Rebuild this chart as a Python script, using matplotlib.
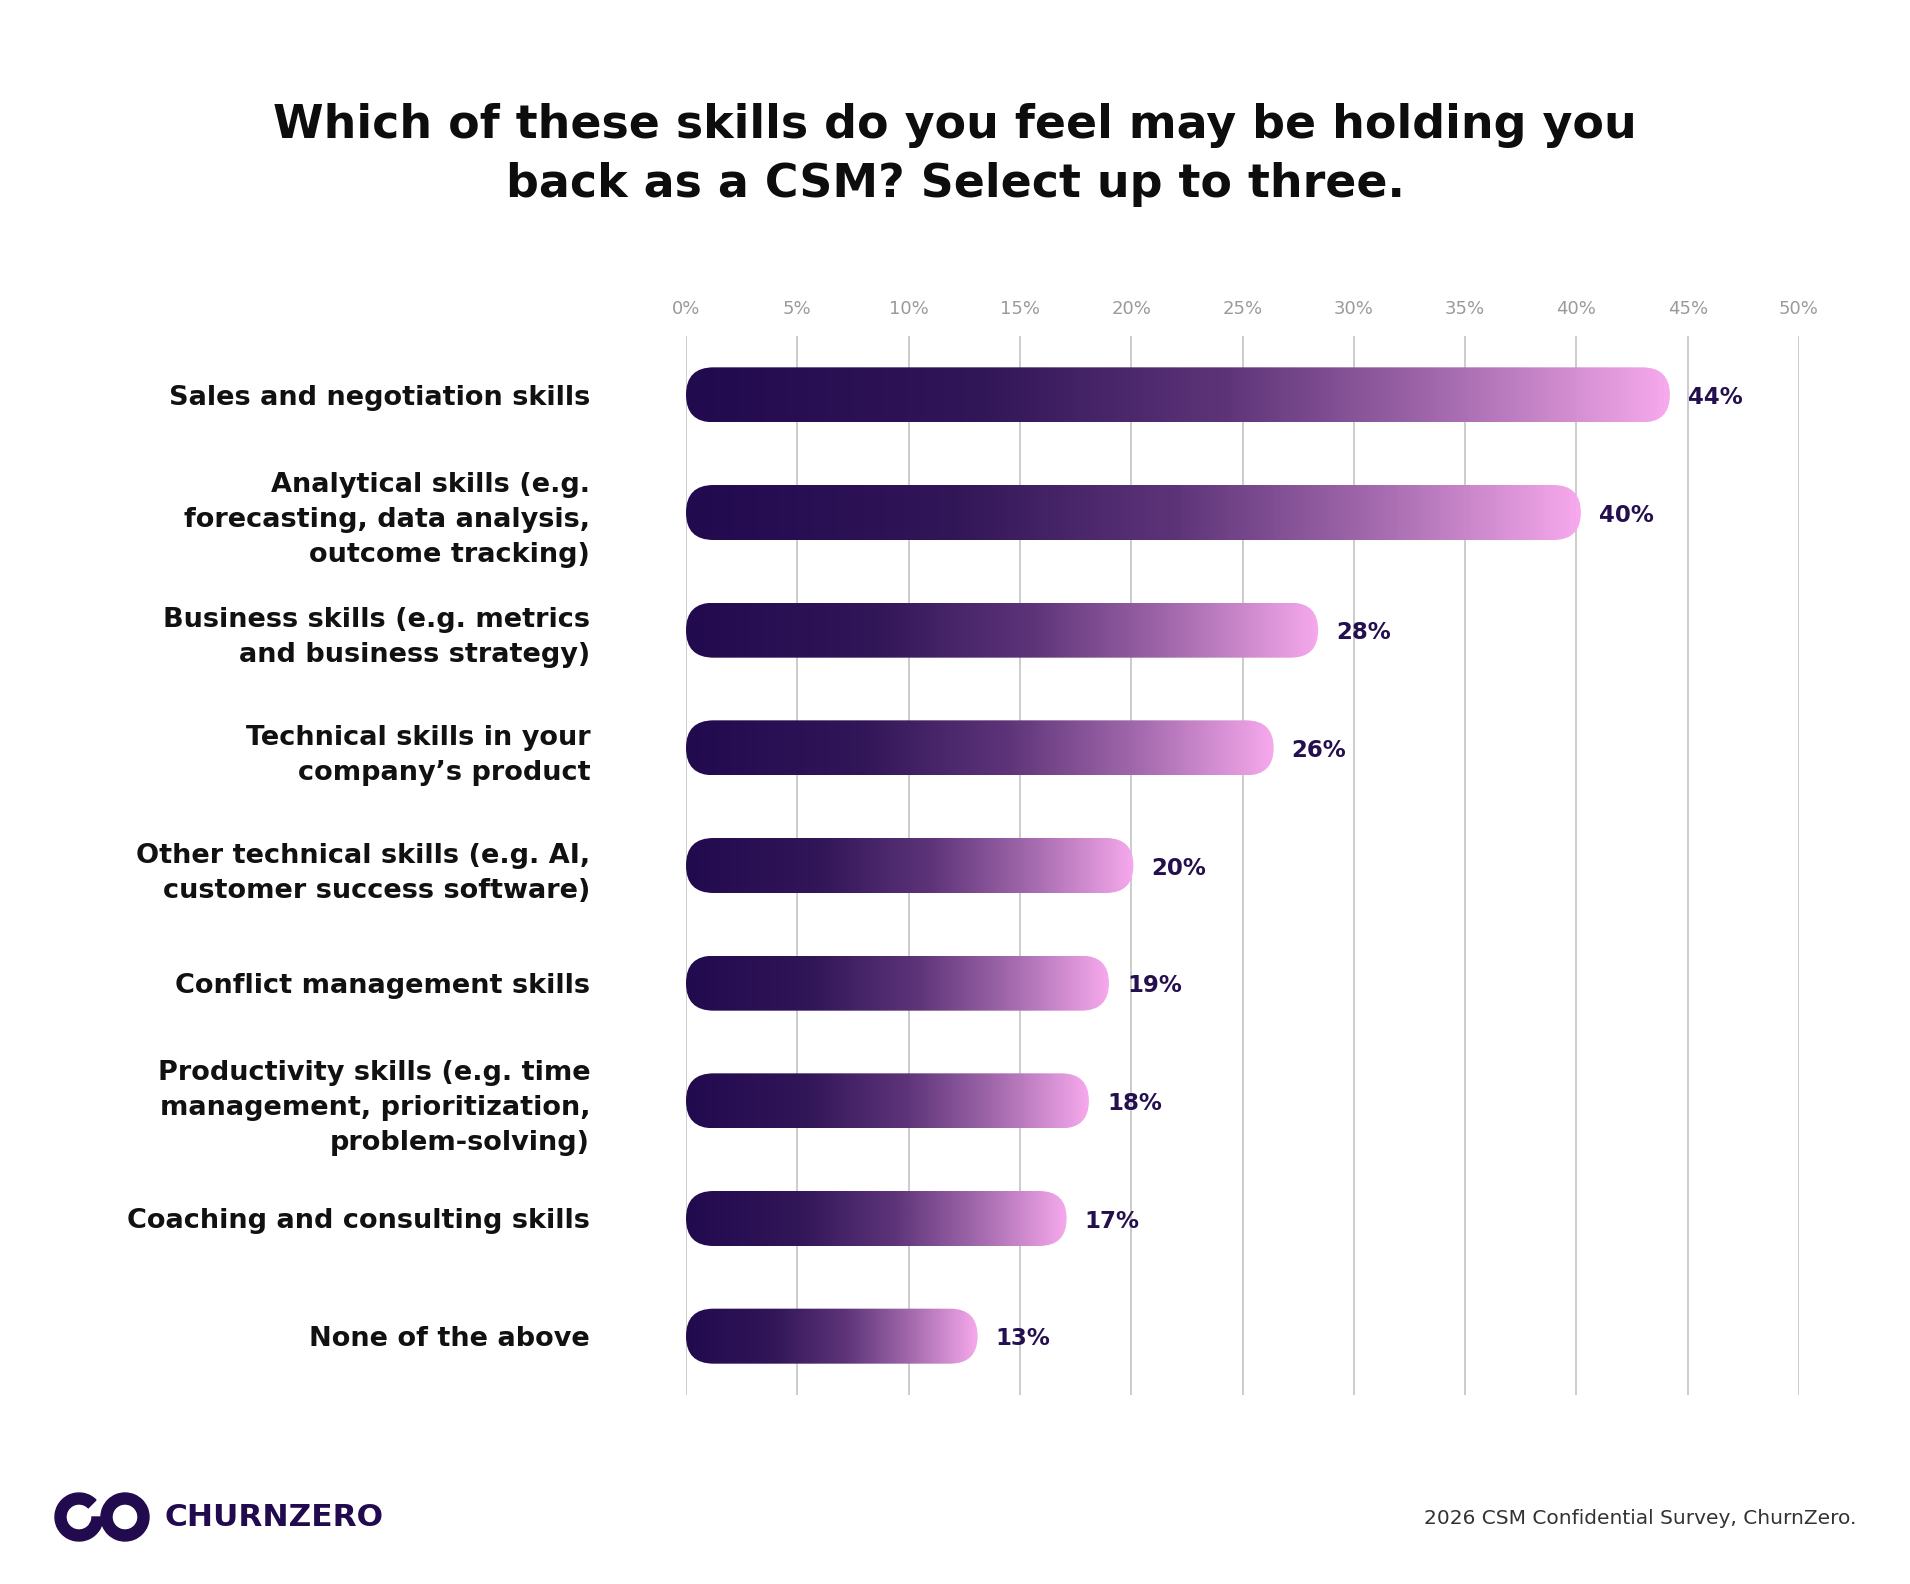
import matplotlib
matplotlib.use('Agg')
import matplotlib.pyplot as plt
import numpy as np
from matplotlib.colors import LinearSegmentedColormap
from matplotlib.patches import FancyBboxPatch, Wedge

# Datos
categorias = [
    'Sales and negotiation skills',
    'Analytical skills (e.g.\nforecasting, data analysis,\noutcome tracking)',
    'Business skills (e.g. metrics\nand business strategy)',
    'Technical skills in your\ncompany\u2019s product',
    'Other technical skills (e.g. AI,\ncustomer success software)',
    'Conflict management skills',
    'Productivity skills (e.g. time\nmanagement, prioritization,\nproblem-solving)',
    'Coaching and consulting skills',
    'None of the above',
]
valores = [44.2, 40.2, 28.4, 26.4, 20.1, 19.0, 18.1, 17.1, 13.1]
etiquetas = ['44%', '40%', '28%', '26%', '20%', '19%', '18%', '17%', '13%']
ticks = [0, 5, 10, 15, 20, 25, 30, 35, 40, 45, 50]

titulo = 'Which of these skills do you feel may be holding you\nback as a CSM? Select up to three.'
fuente = '2026 CSM Confidential Survey, ChurnZero.'

oscuro = '#220a4f'
cmap = LinearSegmentedColormap.from_list(
    'cz', [(0.0, '#220a4f'), (0.3, '#311658'), (0.55, '#5e3479'),
           (0.78, '#a66caf'), (1.0, '#f6a9ec')])

plt.rcParams['font.family'] = ['DejaVu Sans']

W, H, DPI = 1910, 1584, 100
fig = plt.figure(figsize=(W / DPI, H / DPI), dpi=DPI)
fig.patch.set_facecolor('white')

# Ejes en pixeles
x0, x1 = 686, 1799
ytop, ybot = 336, 1395
ax = fig.add_axes([x0 / W, 1 - ybot / H, (x1 - x0) / W, (ybot - ytop) / H])
ax.set_xlim(0, 50)
n = len(categorias)
ax.set_ylim(n - 0.5, -0.5)

for s in ax.spines.values():
    s.set_visible(False)
ax.set_xticks(ticks)
ax.set_xticklabels([f'{t}%' for t in ticks])
ax.xaxis.tick_top()
ax.tick_params(axis='x', length=0, pad=13, labelsize=13, labelcolor='#9a9a9a')
ax.grid(axis='x', color='#c4c4c4', linewidth=1.2)
ax.set_axisbelow(True)

ax.set_yticks(range(n))
ax.set_yticklabels(categorias, fontsize=19.5, fontweight='bold', color='#111111',
                   linespacing=1.45)
ax.tick_params(axis='y', length=0, pad=69)

# Relacion de aspecto para las puntas redondeadas
px_x = (x1 - x0) / 50.0
px_y = (ybot - ytop) / n
alto = 55 / px_y
radio = 27.5 / px_x
aspecto = (1 / px_y) / (1 / px_x)

grad = np.linspace(0, 1, 256).reshape(1, -1)
for i, v in enumerate(valores):
    caja = FancyBboxPatch((0, i - alto / 2), v, alto,
                          boxstyle=f'round,pad=0,rounding_size={radio}',
                          mutation_aspect=aspecto, facecolor='none',
                          edgecolor='none', zorder=3)
    ax.add_patch(caja)
    im = ax.imshow(grad, cmap=cmap, aspect='auto', interpolation='bicubic',
                   extent=[0, v, i + alto / 2, i - alto / 2], zorder=3)
    im.set_clip_path(caja)
    ax.annotate(etiquetas[i], (v, i), xytext=(13, -2), textcoords='offset points',
                va='center', ha='left', fontsize=16.5, fontweight='bold',
                color='#24104f')

ax.set_xlim(0, 50)
ax.set_ylim(n - 0.5, -0.5)

# Titulo
fig.text(0.5, 1 - 155 / H, titulo, ha='center', va='center', fontsize=33,
         fontweight='bold', color='#0d0d0d', linespacing=1.38)

# Fuente
fig.text(1856 / W, 1 - 1519 / H, fuente, ha='right', va='center', fontsize=14.5,
         color='#333333')

# Logo
lax = fig.add_axes([52 / W, 1 - 1544 / H, 100 / W, 54 / H])
lax.set_xlim(0, 100)
lax.set_ylim(0, 54)
lax.set_aspect('equal')
lax.axis('off')
lax.add_patch(Wedge((27, 27), 24, 45, 330, width=11, color=oscuro))
lax.add_patch(Wedge((73, 27), 24, 0, 360, width=11, color=oscuro))
lax.add_patch(Wedge((27, 27), 24, 330, 360, width=11, color=oscuro))
fig.text(164 / W, 1 - 1518 / H, 'CHURNZERO', ha='left', va='center', fontsize=22.5,
         fontweight='bold', color=oscuro)

fig.savefig('out.png', dpi=DPI)
